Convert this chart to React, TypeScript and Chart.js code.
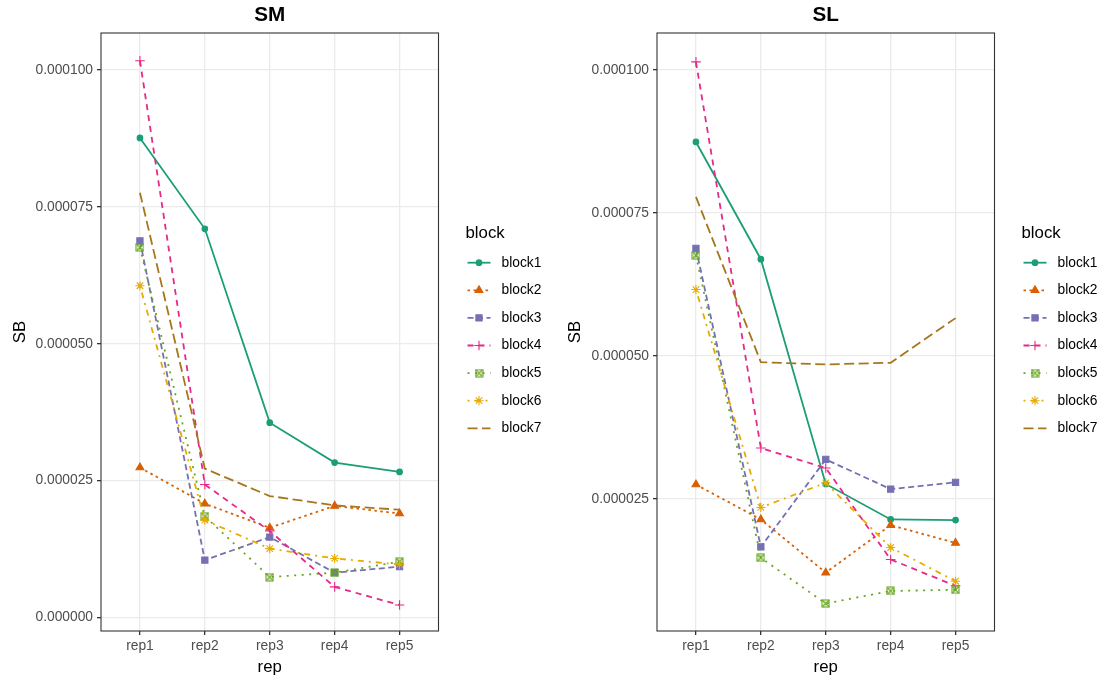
import React, { useEffect, useRef } from 'react';
import { Chart, registerables } from 'chart.js';
import { drawPoint } from 'chart.js/helpers';

Chart.register(...registerables);

const reps = ['rep1', 'rep2', 'rep3', 'rep4', 'rep5'];
const blocks = ['block1', 'block2', 'block3', 'block4', 'block5', 'block6', 'block7'];
const yTicks = [0, 0.000025, 0.00005, 0.000075, 0.0001];
const colors = ['#1B9E77', '#D95F02', '#7570B3', '#E7298A', '#66A61E', '#E6AB02', '#A6761D'];

// SM panel values
const smBlock1 = [8.76e-5, 7.10e-5, 3.56e-5, 2.83e-5, 2.66e-5];
const smBlock2 = [2.74e-5, 2.08e-5, 1.64e-5, 2.04e-5, 1.90e-5];
const smBlock3 = [6.88e-5, 1.05e-5, 1.47e-5, 0.82e-5, 0.93e-5];
const smBlock4 = [10.17e-5, 2.43e-5, 1.58e-5, 0.56e-5, 0.23e-5];
const smBlock5 = [6.76e-5, 1.85e-5, 0.74e-5, 0.82e-5, 1.02e-5];
const smBlock6 = [6.06e-5, 1.78e-5, 1.26e-5, 1.08e-5, 0.97e-5];
const smBlock7 = [7.76e-5, 2.72e-5, 2.22e-5, 2.05e-5, 1.97e-5];

// SL panel values
const slBlock1 = [8.74e-5, 6.69e-5, 2.76e-5, 2.14e-5, 2.13e-5];
const slBlock2 = [2.75e-5, 2.14e-5, 1.21e-5, 2.04e-5, 1.73e-5];
const slBlock3 = [6.88e-5, 1.66e-5, 3.19e-5, 2.67e-5, 2.79e-5];
const slBlock4 = [10.14e-5, 3.39e-5, 3.04e-5, 1.44e-5, 0.98e-5];
const slBlock5 = [6.76e-5, 1.47e-5, 0.67e-5, 0.89e-5, 0.91e-5];
const slBlock6 = [6.16e-5, 2.35e-5, 2.78e-5, 1.65e-5, 1.06e-5];
const slBlock7 = [7.78e-5, 4.89e-5, 4.85e-5, 4.88e-5, 5.66e-5];

const smSeries = [smBlock1, smBlock2, smBlock3, smBlock4, smBlock5, smBlock6, smBlock7];
const slSeries = [slBlock1, slBlock2, slBlock3, slBlock4, slBlock5, slBlock6, slBlock7];

const FONT = '"Liberation Sans", Arial, sans-serif';
const dashes: number[][] = [[], [2.5, 3.5], [6, 3.5], [6, 5], [2, 5.5], [2, 5, 6, 5], [10, 4.5]];
const radii = [2.8, 4.5, 4.4, 4.8, 4.2, 4.6, 0];
const LW = 1.8;

function makeSquareCross(color: string): HTMLCanvasElement {
  const c = document.createElement('canvas');
  c.width = 9;
  c.height = 9;
  const g = c.getContext('2d')!;
  g.strokeStyle = color;
  g.lineWidth = 1.1;
  g.strokeRect(1, 1, 7, 7);
  g.beginPath();
  g.moveTo(1, 1);
  g.lineTo(8, 8);
  g.moveTo(8, 1);
  g.lineTo(1, 8);
  g.stroke();
  return c;
}

function Panel(props: { title: string; series: number[][]; yMin: number; yMax: number; left: number; width: number; yWidth: number; }) {
  const ref = useRef<HTMLCanvasElement>(null);
  useEffect(() => {
    const canvas = ref.current!;
    const styles: any[] = ['circle', 'triangle', 'rect', 'cross', makeSquareCross(colors[4]), 'star', false];
    const datasets = props.series.map((vals, i) => ({
      label: blocks[i],
      data: vals.map((v, j) => ({ x: j, y: v })),
      borderColor: colors[i],
      backgroundColor: colors[i],
      borderWidth: LW,
      borderDash: dashes[i],
      pointStyle: styles[i],
      pointRadius: radii[i],
      pointBorderWidth: 1.1,
      pointBackgroundColor: colors[i],
      pointBorderColor: colors[i],
      tension: 0,
      fill: false,
      order: 7 - i,
    }));

    const decor = {
      id: 'decor',
      afterDatasetsDraw(chart: any) {
        const { ctx, chartArea } = chart;
        ctx.save();
        ctx.strokeStyle = '#333333';
        ctx.lineWidth = 1.1;
        ctx.setLineDash([]);
        ctx.strokeRect(chartArea.left, chartArea.top, chartArea.right - chartArea.left, chartArea.bottom - chartArea.top);
        ctx.restore();
      },
      afterDraw(chart: any) {
        const { ctx, chartArea } = chart;
        const cx = (chartArea.left + chartArea.right) / 2;
        const cy = (chartArea.top + chartArea.bottom) / 2;
        ctx.save();
        ctx.fillStyle = '#000';
        ctx.textBaseline = 'middle';
        ctx.textAlign = 'center';
        ctx.font = `bold 20.7px ${FONT}`;
        ctx.fillText(props.title, cx, 15);
        ctx.font = `16.8px ${FONT}`;
        ctx.fillText('rep', cx, 667);
        ctx.save();
        ctx.translate(20, cy);
        ctx.rotate(-Math.PI / 2);
        ctx.fillText('SB', 0, 0);
        ctx.restore();
        // legend
        const r = chartArea.right;
        ctx.textAlign = 'left';
        ctx.font = `16.8px ${FONT}`;
        ctx.fillText('block', r + 27, 233);
        ctx.font = `13.8px ${FONT}`;
        blocks.forEach((b, i) => {
          const y = 262.7 + i * 27.6;
          ctx.save();
          ctx.strokeStyle = colors[i];
          ctx.lineWidth = LW;
          ctx.setLineDash(dashes[i]);
          ctx.beginPath();
          ctx.moveTo(r + 29, y);
          ctx.lineTo(r + 52, y);
          ctx.stroke();
          ctx.setLineDash([]);
          if (styles[i]) {
            ctx.fillStyle = colors[i];
            ctx.strokeStyle = colors[i];
            ctx.lineWidth = 1.1;
            drawPoint(ctx, { pointStyle: styles[i], radius: radii[i], borderWidth: 1.1, rotation: 0 } as any, r + 40.5, y);
          }
          ctx.restore();
          ctx.fillStyle = '#000';
          ctx.fillText(b, r + 63, y);
        });
        ctx.restore();
      },
    };

    const chart = new Chart(canvas, {
      type: 'line',
      data: { datasets: datasets as any },
      options: {
        responsive: false,
        animation: false,
        layout: { padding: { left: 0, top: 33, right: props.width - props.yWidth - 337.5, bottom: 0 } },
        plugins: { legend: { display: false }, tooltip: { enabled: false }, title: { display: false } },
        scales: {
          x: {
            type: 'linear',
            min: -0.6,
            max: 4.6,
            afterBuildTicks: (s: any) => { s.ticks = reps.map((_, i) => ({ value: i })); },
            afterFit: (s: any) => { s.height = 52; },
            ticks: {
              callback: (v: any) => reps[v as number],
              color: '#4D4D4D',
              font: { family: FONT, size: 13.8 },
              padding: 3,
              maxRotation: 0,
              autoSkip: false,
            },
            grid: { color: '#EBEBEB', lineWidth: 1.3, tickLength: 4, tickColor: '#333333', drawTicks: true },
            border: { display: false },
          },
          y: {
            type: 'linear',
            min: props.yMin,
            max: props.yMax,
            afterBuildTicks: (s: any) => { s.ticks = yTicks.filter(v => v >= props.yMin && v <= props.yMax).map(v => ({ value: v })); },
            afterFit: (s: any) => { s.width = props.yWidth; },
            ticks: {
              callback: (v: any) => Number(v).toFixed(6),
              color: '#4D4D4D',
              font: { family: FONT, size: 13.8 },
              padding: 4,
              autoSkip: false,
            },
            grid: { color: '#EBEBEB', lineWidth: 1.3, tickLength: 4, tickColor: '#333333', drawTicks: true },
            border: { display: false },
          },
        },
      },
      plugins: [decor],
    });
    return () => chart.destroy();
  }, []);
  return (
    <canvas
      ref={ref}
      width={props.width}
      height={683}
      style={{ position: 'absolute', left: props.left, top: 0, width: props.width, height: 683 }}
    />
  );
}

export default function App() {
  return (
    <div style={{ position: 'absolute', left: 0, top: 0, width: 1105, height: 683, background: '#fff' }}>
      <Panel title="SM" series={smSeries} yMin={-2.45e-6} yMax={1.0676e-4} left={0} width={555} yWidth={101} />
      <Panel title="SL" series={slSeries} yMin={1.9e-6} yMax={1.0645e-4} left={555} width={550} yWidth={102} />
    </div>
  );
}
